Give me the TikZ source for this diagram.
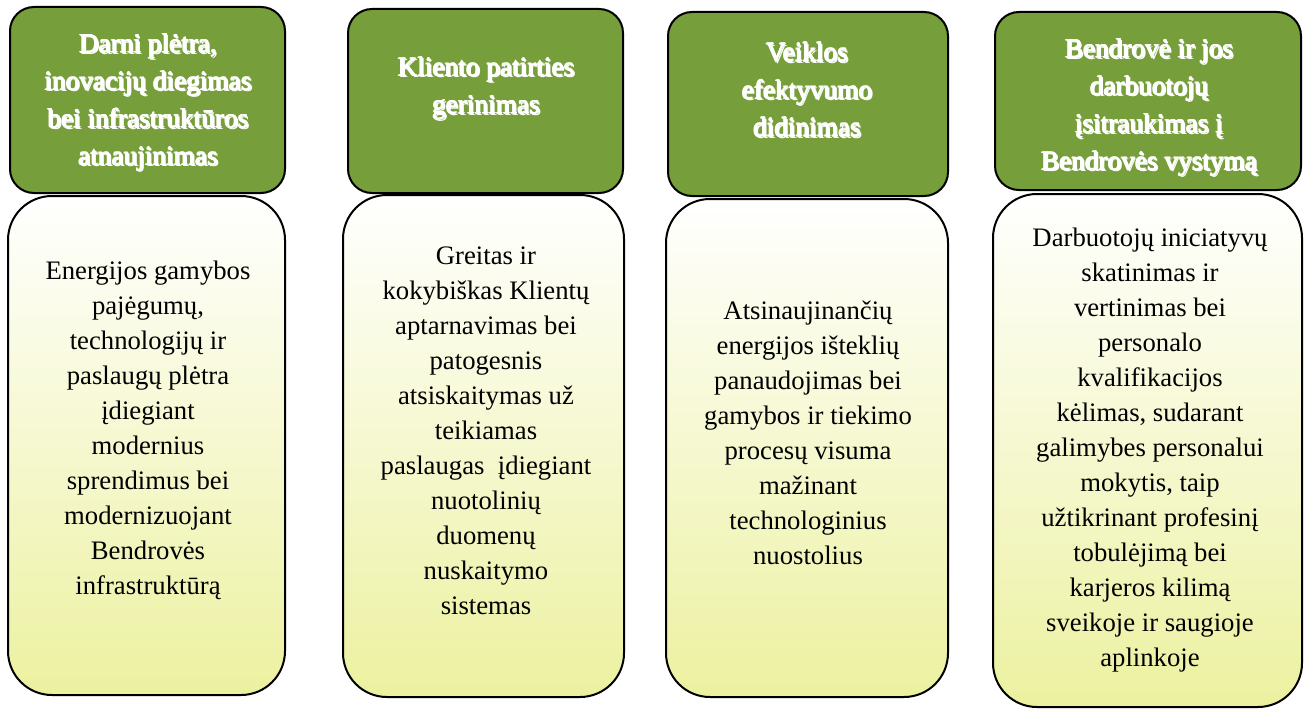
\documentclass[tikz,border=0pt]{standalone}
\usepackage{fontspec}
\setmainfont{Liberation Serif}
\definecolor{hdrgreen}{RGB}{118,158,58}
\definecolor{bodybot}{RGB}{236,241,160}
\definecolor{outl}{RGB}{45,45,45}
\tikzset{
  hdr/.style={draw=black, line width=2pt, fill=hdrgreen, rounded corners=24pt},
  bodybox/.style={draw=black, line width=2pt, top color=white, bottom color=bodybot, rounded corners=44pt},
  btxt/.style={align=center, font=\fontsize{26.7}{35}\selectfont, inner sep=0pt, text=black},
  htxt/.style={font=\fontsize{27.3}{37.5}\selectfont, inner sep=0pt, text=white},
}
\newsavebox\hdrbox
\newcommand{\shp}[2]{\rlap{\kern#1\raisebox{#2}{\usebox\hdrbox}}}
\newcommand{\hdrtext}[1]{%
  \sbox\hdrbox{\begin{tabular}{@{}c@{}}#1\end{tabular}}%
  {\color{outl}%
   \shp{1.6pt}{-1.6pt}\shp{0.6pt}{0pt}\shp{-0.6pt}{0pt}\shp{0pt}{0.6pt}\shp{0pt}{-0.6pt}}%
  \usebox\hdrbox}
\begin{document}
\begin{tikzpicture}[x=1pt,y=-1pt]
\useasboundingbox (0,0) rectangle (1308,709);
% column 1
\draw[hdr] (10,7) rectangle (285,193);
\draw[bodybox] (8,196) rectangle (285,695);
% column 2
\draw[hdr] (348,9) rectangle (623,193);
\draw[bodybox] (343,195) rectangle (624,697);
% column 3
\draw[hdr] (668,12) rectangle (948,196);
\draw[bodybox] (666,199) rectangle (948,697);
% column 4
\draw[hdr] (995,12) rectangle (1301,190);
\draw[bodybox] (993,194) rectangle (1302,707);

\node[htxt] (h1) at (148,102) {\hdrtext{Darni plėtra,\\inovacijų diegimas\\bei infrastruktūros\\atnaujinimas}};
\node[htxt] (h2) at (486,88) {\hdrtext{Kliento patirties\\gerinimas}};
\node[htxt] (h3) at (807,92) {\hdrtext{Veiklos\\efektyvumo\\didinimas}};
\node[htxt] (h4) at (1149,107) {\hdrtext{Bendrovė ir jos\\darbuotojų\\įsitraukimas į\\Bendrovės vystymą}};

\node[btxt] (b1) at (148,430) {Energijos gamybos\\pajėgumų,\\technologijų ir\\paslaugų plėtra\\įdiegiant\\modernius\\sprendimus bei\\modernizuojant\\Bendrovės\\infrastruktūrą};
\node[btxt] (b2) at (486,431) {Greitas ir\\kokybiškas Klientų\\aptarnavimas bei\\patogesnis\\atsiskaitymas už\\teikiamas\\paslaugas~~įdiegiant\\nuotolinių\\duomenų\\nuskaitymo\\sistemas};
\node[btxt] (b3) at (808,433) {Atsinaujinančių\\energijos išteklių\\panaudojimas bei\\gamybos ir tiekimo\\procesų visuma\\mažinant\\technologinius\\nuostolius};
\node[btxt] (b4) at (1150,450) {Darbuotojų iniciatyvų\\skatinimas ir\\vertinimas bei\\personalo\\kvalifikacijos\\kėlimas, sudarant\\galimybes personalui\\mokytis, taip\\užtikrinant profesinį\\tobulėjimą bei\\karjeros kilimą\\sveikoje ir saugioje\\aplinkoje};
\end{tikzpicture}
\end{document}
